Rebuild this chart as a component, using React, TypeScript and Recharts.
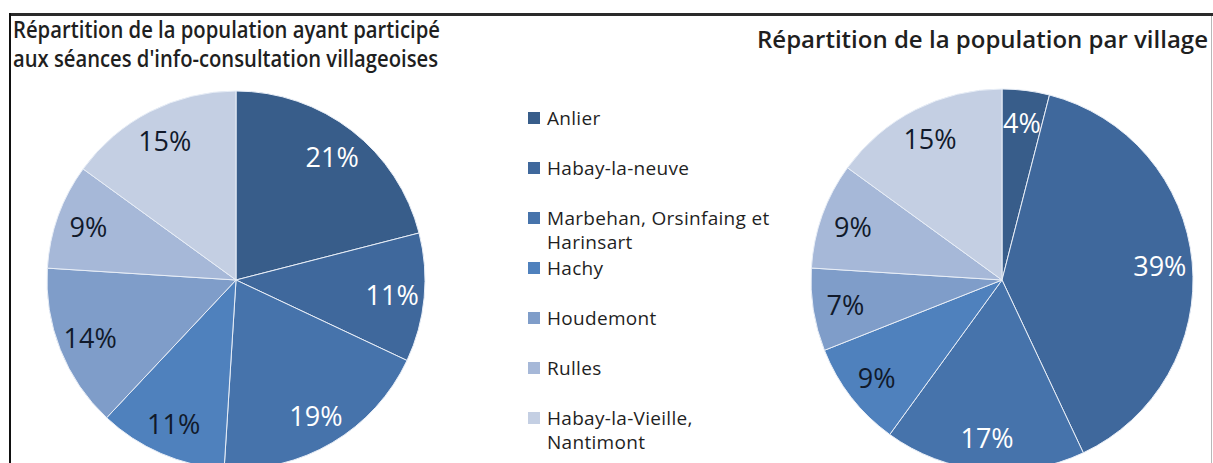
import React from 'react';
import { PieChart, Pie, Cell, Legend } from 'recharts';

const categories = [
  'Anlier',
  'Habay-la-neuve',
  'Marbehan, Orsinfaing et Harinsart',
  'Hachy',
  'Houdemont',
  'Rulles',
  'Habay-la-Vieille, Nantimont',
];
const legendLines = [
  ['Anlier'],
  ['Habay-la-neuve'],
  ['Marbehan, Orsinfaing et', 'Harinsart'],
  ['Hachy'],
  ['Houdemont'],
  ['Rulles'],
  ['Habay-la-Vieille,', 'Nantimont'],
];
const participationValues = [21, 11, 19, 11, 14, 9, 15];
const populationValues = [4, 39, 17, 9, 7, 9, 15];
const sliceColors = ['#385d8a', '#3f689c', '#4673ab', '#4f81bd', '#7f9dc9', '#a6b8d8', '#c4cfe3'];
const labelColors = ['#ffffff', '#ffffff', '#ffffff', '#111a2b', '#111a2b', '#111a2b', '#111a2b'];
const leftTitle = ['Répartition de la population ayant participé', "aux séances d'info-consultation villageoises"];
const rightTitle = 'Répartition de la population par village';

const participationData = categories.map((name, i) => ({ name, value: participationValues[i] }));
const populationData = categories.map((name, i) => ({ name, value: populationValues[i] }));

const FONT = '"Open Sans", "DejaVu Sans", sans-serif';
const RAD = Math.PI / 180;

const renderLabel = (props: any) => {
  const { cx, cy, midAngle, outerRadius, index, value } = props;
  const r = outerRadius * 0.83;
  const x = cx + r * Math.cos(-midAngle * RAD);
  const y = cy + r * Math.sin(-midAngle * RAD);
  return (
    <text
      x={x}
      y={y}
      textAnchor="middle"
      dominantBaseline="central"
      fill={labelColors[index]}
      fontSize={27}
      fontFamily={FONT}
    >
      {value}%
    </text>
  );
};

const LegendContent = () => (
  <div style={{ position: 'relative', width: 260, height: 360, fontFamily: FONT }}>
    {legendLines.map((lines, i) => {
      const top = i * 50;
      return (
        <div key={categories[i]} style={{ position: 'absolute', left: 0, top }}>
          <div
            style={{
              position: 'absolute',
              left: 0,
              top: 12,
              width: 12,
              height: 12,
              background: sliceColors[i],
            }}
          />
          {lines.map((ln, j) => (
            <div
              key={j}
              style={{
                position: 'absolute',
                left: 19,
                top: 7 + j * 24,
                whiteSpace: 'nowrap',
                fontSize: 19,
                lineHeight: '22px',
                letterSpacing: 0.3,
                color: '#1f1f1f',
              }}
            >
              {ln}
            </div>
          ))}
        </div>
      );
    })}
  </div>
);

export default function App() {
  return (
    <div style={{ position: 'absolute', left: 0, top: 0, width: 1213, height: 463, background: '#fff', overflow: 'hidden' }}>
      <PieChart width={1213} height={463} margin={{ top: 0, right: 0, bottom: 0, left: 0 }}>
        <Pie
          data={participationData}
          dataKey="value"
          nameKey="name"
          cx={236}
          cy={280}
          outerRadius={189}
          startAngle={90}
          endAngle={-270}
          stroke="#e8eef7"
          strokeWidth={1}
          label={renderLabel}
          labelLine={false}
          isAnimationActive={false}
        >
          {participationData.map((d, i) => (
            <Cell key={d.name} fill={sliceColors[i]} />
          ))}
        </Pie>
        <Pie
          data={populationData}
          dataKey="value"
          nameKey="name"
          cx={1002}
          cy={280}
          outerRadius={191}
          startAngle={90}
          endAngle={-270}
          stroke="#e8eef7"
          strokeWidth={1}
          label={renderLabel}
          labelLine={false}
          isAnimationActive={false}
        >
          {populationData.map((d, i) => (
            <Cell key={d.name} fill={sliceColors[i]} />
          ))}
        </Pie>
        <Legend
          content={<LegendContent />}
          wrapperStyle={{ position: 'absolute', left: 528, top: 100, width: 260, height: 360, bottom: 'auto', right: 'auto' }}
        />
      </PieChart>
      <svg
        width={1213}
        height={463}
        style={{ position: 'absolute', left: 0, top: 0, pointerEvents: 'none' }}
      >
        <rect x={9} y={13} width={1204} height={3} fill="#2a2a2a" />
        <rect x={9} y={13} width={2} height={450} fill="#111" />
        <rect x={1211} y={16} width={1} height={447} fill="#b8b8b8" />
        <text x={13} y={38} fontSize={23} fontWeight={600} fontFamily={FONT} fill="#1f1f1f" textLength={427} lengthAdjust="spacingAndGlyphs">
          {leftTitle[0]}
        </text>
        <text x={13} y={67} fontSize={23} fontWeight={600} fontFamily={FONT} fill="#1f1f1f" textLength={425} lengthAdjust="spacingAndGlyphs">
          {leftTitle[1]}
        </text>
        <text x={757} y={48} fontSize={23} fontWeight={600} fontFamily={FONT} fill="#1f1f1f" textLength={451} lengthAdjust="spacingAndGlyphs">
          {rightTitle}
        </text>
      </svg>
    </div>
  );
}
